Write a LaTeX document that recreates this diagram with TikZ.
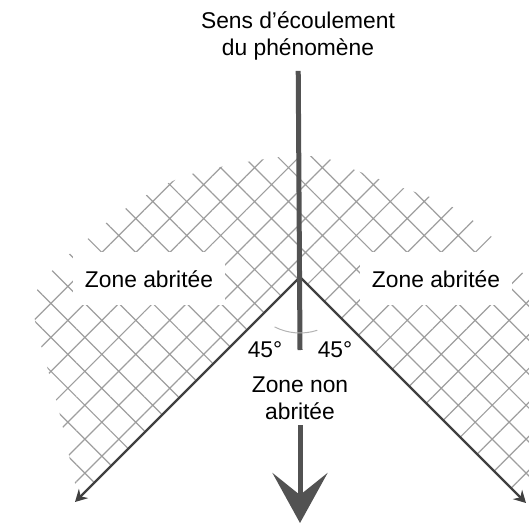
\documentclass[tikz,border=0pt]{standalone}
\usepackage{fontspec}
\setmainfont{Liberation Sans}
\usetikzlibrary{arrows.meta}
\usetikzlibrary{patterns.meta}

\begin{document}
\begin{tikzpicture}[x=0.5pt, y=-0.5pt,
    txt/.style={font=\fontsize{11.4}{13.5}\selectfont, inner sep=0pt, align=center},
    zone/.style={txt, fill=white, inner xsep=6pt, inner ysep=9pt},
    ray/.style={draw=black!75, line width=1.2pt, -{Stealth[length=6pt, width=6.5pt, inset=2pt]}},
    flow/.style={draw=black!68, line width=2.5pt}]
    \useasboundingbox (0,0) rectangle (529,524);

    % Define points
    \coordinate (O) at (300,277); % apex of the sheltered zone
    \coordinate (L) at (75,502);
    \coordinate (R) at (526,503);
    \coordinate (cut) at (300,350);
    \coordinate (tip) at (300,523);

    % Hatched area
    \fill[pattern={Hatch[distance=12pt, angle=45, line width=0.6pt]}, pattern color=black!38]
        plot[smooth] coordinates {(78,497) (70,460) (60,415) (48,370) (37,330) (33,300)
        (45,279) (65,258) (90,237) (115,216) (150,193) (185,176) (235,164) (290,156)
        (325,158) (355,170) (400,187) (445,203) (480,226) (508,254) (529,282)}
        -- (529,482) -- (R) -- (O) -- (L) -- cycle;

    % Labels of the zones
    \node[zone, anchor=base] (zl) at (149,287) {Zone abritée};
    \node[zone, anchor=base] (zr) at (436,287) {Zone abritée};
    \node[txt, anchor=north] (flowtxt) at (298,11.5) {Sens d'écoulement\\du phénomène};
    \node[txt, anchor=south, inner ysep=2.5pt] (zna) at (300,425) {Zone non\\abritée};

    % Draw the rays and the flow direction
    \draw[ray] (O) -- (L);
    \draw[ray] (O) -- (R);
    \draw[flow, shorten <=5pt] (flowtxt) -- (cut);
    \draw[flow, -{Stealth[length=25pt, width=27.5pt, inset=11pt]}] (zna) -- (tip);

    % Angles
    \draw[black!30, line width=0.5pt] (O) ++(117:56) arc[start angle=117, end angle=72, radius=56];
    \node[txt, anchor=base] (al) at (265,357) {45°};
    \node[txt, anchor=base] (ar) at (335,357) {45°};
\end{tikzpicture}
\end{document}
